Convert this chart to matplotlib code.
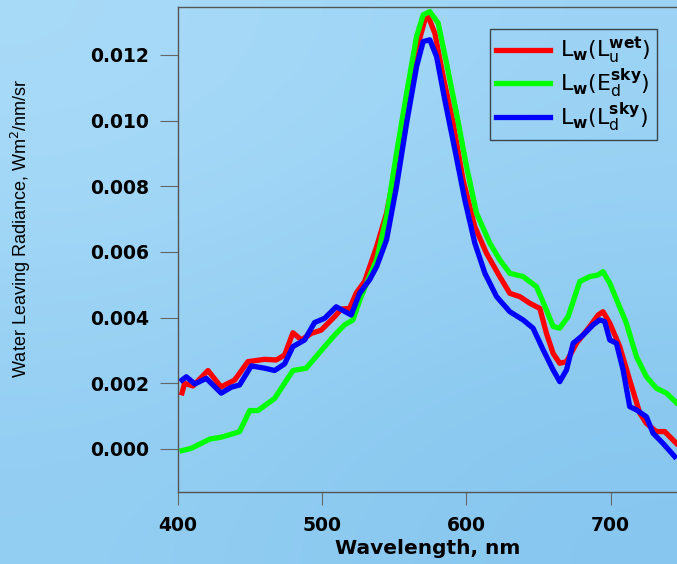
import numpy as np
import matplotlib
matplotlib.use('Agg')
import matplotlib.pyplot as plt

# wavelength (nm) / water leaving radiance (x 1e-3)
wl_wet = [402.8, 404.6, 410.4, 420.8, 429.8, 439.3, 448.5, 460.1, 468.1, 473.9,
          479.7, 485.5, 492.4, 499.3, 508.6, 513.2, 519.0, 523.6, 529.4, 537.7,
          544.6, 551.5, 558.5, 565.4, 571.2, 573.5, 578.1, 583.9, 590.8, 597.7,
          605.8, 613.9, 623.1, 630.1, 637.0, 643.9, 650.9, 655.5, 660.1, 664.7,
          669.4, 676.3, 685.5, 691.3, 694.7, 699.4, 706.3, 713.2, 720.2, 724.8,
          731.7, 737.5, 745.6]
lw_wet = [1.71, 2.00, 1.92, 2.39, 1.89, 2.10, 2.66, 2.73, 2.71, 2.86,
          3.54, 3.32, 3.52, 3.62, 4.03, 4.26, 4.28, 4.75, 5.10, 6.16,
          7.18, 8.70, 10.33, 12.15, 13.07, 13.17, 12.66, 11.34, 9.92, 8.19,
          6.77, 5.96, 5.25, 4.74, 4.64, 4.44, 4.28, 3.52, 2.91, 2.61,
          2.66, 3.22, 3.73, 4.08, 4.18, 3.83, 3.12, 2.10, 1.09, 0.78,
          0.53, 0.53, 0.17]

wl_ed = [402.8, 409.2, 422.0, 430.0, 439.3, 442.7, 449.7, 455.4, 467.0, 479.7,
         488.9, 494.7, 508.6, 515.5, 521.3, 526.1, 531.7, 537.7, 544.6, 551.5,
         558.5, 565.4, 570.0, 574.6, 580.4, 586.2, 593.1, 600.1, 607.0, 616.2,
         623.1, 630.1, 639.3, 648.6, 655.5, 660.1, 664.7, 670.5, 678.6, 685.5,
         691.3, 694.7, 699.4, 710.9, 717.9, 724.8, 731.7, 738.7, 745.6]
lw_ed = [-0.05, 0.02, 0.30, 0.36, 0.48, 0.53, 1.17, 1.17, 1.54, 2.39,
         2.46, 2.76, 3.47, 3.78, 3.93, 4.54, 5.15, 5.76, 7.08, 9.00,
         10.83, 12.56, 13.22, 13.32, 12.97, 11.75, 10.23, 8.60, 7.18, 6.27,
         5.76, 5.35, 5.25, 4.94, 4.23, 3.73, 3.68, 4.03, 5.10, 5.25,
         5.30, 5.40, 5.05, 3.83, 2.81, 2.20, 1.85, 1.70, 1.41]

wl_ld = [402.8, 405.8, 411.6, 419.6, 430.0, 436.9, 442.7, 450.8, 460.1, 467.0,
         473.9, 479.7, 487.8, 494.7, 501.7, 509.7, 520.1, 525.9, 532.8, 537.7,
         544.6, 551.5, 558.5, 565.4, 570.0, 574.6, 579.3, 585.0, 592.0, 598.9,
         605.8, 612.8, 620.9, 630.1, 639.3, 646.2, 653.2, 660.1, 664.7, 669.4,
         674.0, 680.9, 687.8, 692.4, 695.9, 699.4, 704.0, 708.6, 713.2, 717.9,
         724.8, 729.4, 736.3, 744.4]
lw_ld = [2.10, 2.20, 1.98, 2.15, 1.70, 1.88, 1.95, 2.53, 2.46, 2.39,
         2.59, 3.12, 3.32, 3.85, 3.98, 4.33, 4.08, 4.74, 5.15, 5.55,
         6.37, 7.99, 9.92, 11.64, 12.41, 12.46, 11.95, 10.63, 9.11, 7.58,
         6.27, 5.35, 4.64, 4.18, 3.93, 3.68, 3.02, 2.41, 2.05, 2.41,
         3.22, 3.47, 3.78, 3.93, 3.88, 3.32, 3.22, 2.41, 1.29, 1.19,
         0.98, 0.48, 0.17, -0.23]

labels = [r'$\mathregular{L_{\mathbf{w}}(L_{u}^{\mathbf{wet}})}$',
          r'$\mathregular{L_{\mathbf{w}}(E_{d}^{\mathbf{sky}})}$',
          r'$\mathregular{L_{\mathbf{w}}(L_{d}^{\mathbf{sky}})}$']
colors = ['#ff0000', '#00ff00', '#0000ff']

fig = plt.figure(figsize=(6.77, 5.64), dpi=100)

# sky-ish background
bg = fig.add_axes([0, 0, 1, 1], zorder=-10)
grad = np.array([[0.0, 0.35], [0.65, 1.0]])
sky = matplotlib.colors.LinearSegmentedColormap.from_list('sky', ['#a9dbf8', '#86c6ef'])
bg.imshow(grad, cmap=sky, aspect='auto', interpolation='bicubic', extent=[0, 1, 0, 1])
bg.axis('off')

ax = fig.add_axes([178/677, 1 - 492/564, 1 - 178/677, 485/564])
ax.patch.set_alpha(0)

for x, y, c, lab in zip([wl_wet, wl_ed, wl_ld], [lw_wet, lw_ed, lw_ld], colors, labels):
    ax.plot(x, np.array(y) * 1e-3, color=c, lw=3.8, label=lab, solid_joinstyle='round')

ax.set_xlim(400, 746)
ax.set_ylim(-0.00131, 0.01346)
ax.set_xticks([400, 500, 600, 700])
ax.set_yticks([0.0, 0.002, 0.004, 0.006, 0.008, 0.010, 0.012])
ax.yaxis.set_major_formatter(matplotlib.ticker.FormatStrFormatter('%.3f'))

ax.spines['right'].set_visible(False)
for s in ['left', 'bottom', 'top']:
    ax.spines[s].set_color('#555555')
    ax.spines[s].set_linewidth(1.0)
ax.tick_params(axis='y', direction='out', length=13, width=0.8, color='#666666', pad=8, labelsize=13.5)
ax.tick_params(axis='x', direction='out', length=9, width=0.8, color='#666666', pad=8, labelsize=13.5)
for t in ax.get_xticklabels() + ax.get_yticklabels():
    t.set_fontweight('bold')

ax.set_xlabel('Wavelength, nm', fontsize=14.5, fontweight='bold', labelpad=3)
ax.set_ylabel(r'Water Leaving Radiance, Wm$^{2}$/nm/sr', fontsize=13,
              family=['Liberation Sans Narrow', 'Liberation Sans', 'DejaVu Sans'])
ax.yaxis.set_label_coords((33 - 178) / 499, (492 - 228) / 485)

leg = ax.legend(loc='upper right', bbox_to_anchor=(0.96, 0.955), fontsize=16,
                handlelength=2.4, handletextpad=0.45, labelspacing=0.0,
                borderpad=0.3, borderaxespad=0, fancybox=False)
leg.get_frame().set_facecolor('none')
leg.get_frame().set_edgecolor('#222222')
leg.get_frame().set_linewidth(1.0)
for h in leg.get_lines():
    h.set_linewidth(3.8)

fig.savefig('out.png', dpi=100)
